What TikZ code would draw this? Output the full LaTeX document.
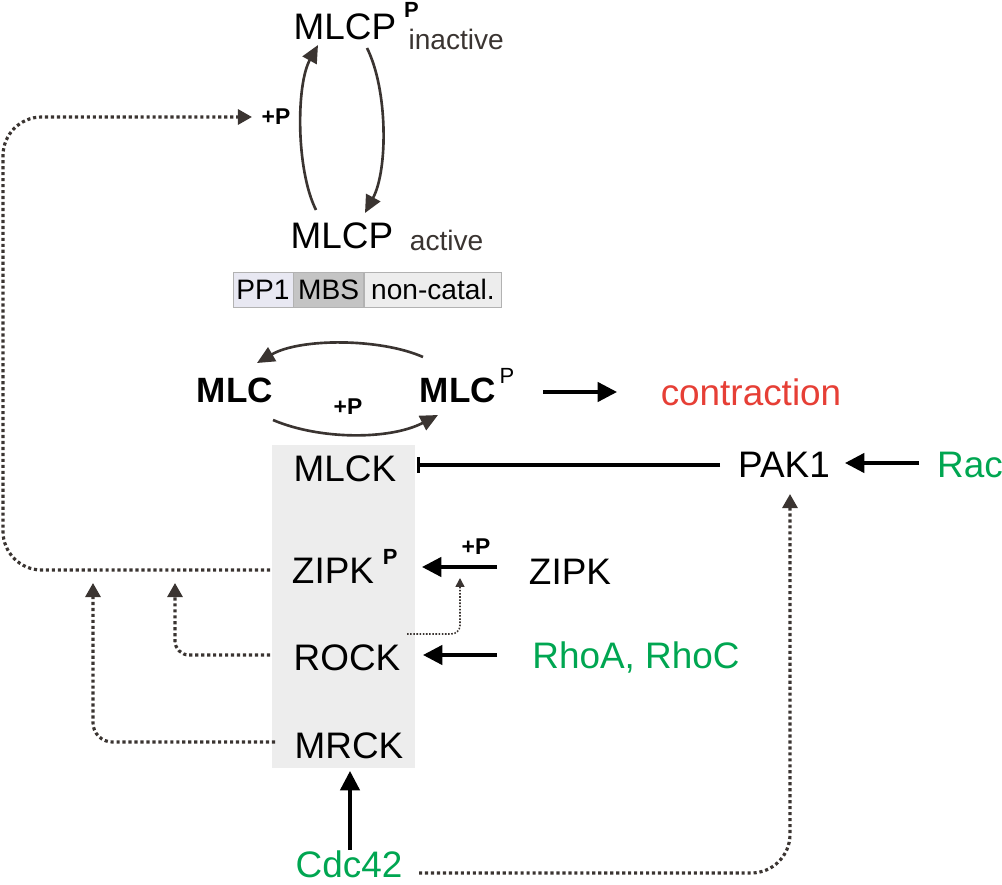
\documentclass[tikz,border=0pt]{standalone}
\usepackage{fontspec}
\setmainfont{Liberation Sans}
\usepackage{tikz}
\usepackage{xcolor}
\definecolor{Sigred}{HTML}{E63F36}
\definecolor{Siggreen}{HTML}{00A651}
\definecolor{Sigdark}{HTML}{3A3431}
\definecolor{Sigbox}{HTML}{EDEDED}
\definecolor{Sigpp}{HTML}{E8E8F2}
\definecolor{Sigmbs}{HTML}{C4C4C4}
\usetikzlibrary{arrows.meta,calc}
\tikzstyle{txt} = [font=\fontsize{21}{25}\selectfont, inner sep=2pt]
\tikzstyle{plusp} = [font=\bfseries\fontsize{13}{15}\selectfont, inner sep=2pt]
\tikzstyle{cell} = [draw=gray!60, inner sep=0pt, minimum height=0.7cm, font=\fontsize{16}{19}\selectfont]
\tikzstyle{arrow} = [
    line width=1.9pt,
    -{Triangle[length=11pt,width=11pt]}
]
\tikzstyle{inhib} = [line width=1.9pt, -{Bar[width=9pt,line width=1.9pt]}]
\tikzstyle{turnover} = [line width=1.5pt, Sigdark, -{Triangle[length=10pt,width=9pt]}]
\tikzstyle{dotarrow} = [line width=1.8pt, Sigdark, dash pattern=on 1.8pt off 1.6pt, -{Triangle[length=8pt,width=8.5pt]}]
\tikzstyle{thindot} = [line width=0.9pt, Sigdark, dash pattern=on 0.9pt off 0.9pt, -{Triangle[length=5pt,width=5pt]}]
\newcommand{\phosP}[3]{\rlap{\smash{\hspace{#1}\raisebox{#2}{#3\fontsize{12.5}{14}\selectfont P}}}}
\newcommand{\state}[3]{\rlap{\smash{\hspace{#1}\raisebox{#2}{\color{Sigdark}\fontsize{16}{19}\selectfont #3}}}}

\begin{document}
\begin{tikzpicture}[x=0.02cm, y=-0.02cm]
    \useasboundingbox (0,0) rectangle (1002,885);
    % Kinase block
    \fill[Sigbox] (272,445) rectangle (415,768);
    % MLCP cycle
    \node[txt] (mlcpi) at (345,27) {MLCP\phosP{4.5pt}{12.5pt}{\bfseries}\state{7pt}{-5.7pt}{inactive}};
    \node[txt] (mlcpa) at (342,236) {MLCP\state{9.5pt}{-1pt}{active}};
    \node[plusp] (plusa) at (276,117) {+P};
    \draw[turnover] ($(mlcpa)+(-26,-26)$) .. controls ($(mlcpa)+(-46,-66)$) and ($(mlcpa)+(-46,-151)$) .. ($(mlcpi)+(-27,18)$);
    \draw[turnover] ($(mlcpi)+(22,21)$) .. controls ($(mlcpi)+(43,63)$) and ($(mlcpa)+(46,-66)$) .. ($(mlcpa)+(23,-23)$);
    % MLCP subunits
    \node[cell, fill=Sigpp, minimum width=1.2cm] (pp1) at (263,289.5) {PP1};
    \node[cell, fill=Sigmbs, minimum width=1.4cm, anchor=west] (mbs) at (pp1.east) {MBS};
    \node[cell, fill=Sigbox, minimum width=2.74cm, anchor=west] (noncat) at (mbs.east) {non-catal.};
    % MLC cycle
    \node[txt, font=\bfseries\fontsize{20}{24}\selectfont] (mlc) at (235,390) {MLC};
    \node[txt, font=\bfseries\fontsize{20}{24}\selectfont] (mlcp) at (458,390) {MLC\phosP{2pt}{10.8pt}{\mdseries}};
    \node[plusp] (plusb) at (348,407) {+P};
    \node[txt, Sigred] (contr) at (751,392) {contraction};
    \draw[turnover] ($(mlcp)+(-35,-33)$) .. controls ($(mlcp)+(-78,-52)$) and ($(mlc)+(65,-52)$) .. ($(mlc)+(22,-27)$);
    \draw[turnover] ($(mlc)+(38,30)$) .. controls ($(mlc)+(85,50)$) and ($(mlcp)+(-68,50)$) .. ($(mlcp)+(-20,25)$);
    \draw[arrow] ($(mlcp)+(85,2)$) -- ($(contr)+(-134,0)$);
    % Kinases
    \node[txt] (mlck) at (345,469) {MLCK};
    \node[txt] (zipkp) at (333,571) {ZIPK\phosP{5pt}{11pt}{\bfseries}};
    \node[txt] (rock) at (347,658) {ROCK};
    \node[txt] (mrck) at (349,746) {MRCK};
    % Upstream
    \node[txt] (pak) at (784,465) {PAK1};
    \node[txt, Siggreen] (rac) at (970,465) {Rac};
    \node[txt] (zipk) at (570,572) {ZIPK};
    \node[plusp] (plusc) at (476,547) {+P};
    \node[txt, Siggreen] (rho) at (636,657) {RhoA, RhoC};
    \node[txt, Siggreen] (cdc) at (349,864) {Cdc42};
    \draw[inhib] ($(pak)+(-64,0)$) -- ($(mlck)+(72,-4)$);
    \draw[arrow] ($(rac)+(-51,-2)$) -- ($(pak)+(61,-2)$);
    \draw[arrow] ($(zipk)+(-73,-5)$) -- ($(zipkp)+(89,-4)$);
    \draw[arrow] ($(rho)+(-139,-2)$) -- ($(rock)+(76,-3)$);
    \draw[arrow] ($(cdc)+(1,-14)$) -- ($(mrck)+(1,25)$);
    % Dotted effects
    \draw[dotarrow, rounded corners=22pt] ($(zipkp)+(-63,-1)$) -| ($(plusa)+(-273,0)$) -- ($(plusa)+(-24,0)$);
    \draw[dotarrow, rounded corners=8pt] ($(rock)+(-77,-3)$) -| ($(zipkp)+(-158,12)$);
    \draw[dotarrow, rounded corners=11pt] ($(mrck)+(-74,-4)$) -| ($(zipkp)+(-240,12)$);
    \draw[dotarrow, rounded corners=22pt] ($(cdc)+(70,9)$) -| ($(pak)+(6,29)$);
    \draw[thindot, rounded corners=5pt] ($(rock)+(60,-24)$) -| ($(zipk)+(-110,6)$);
\end{tikzpicture}
\end{document}
